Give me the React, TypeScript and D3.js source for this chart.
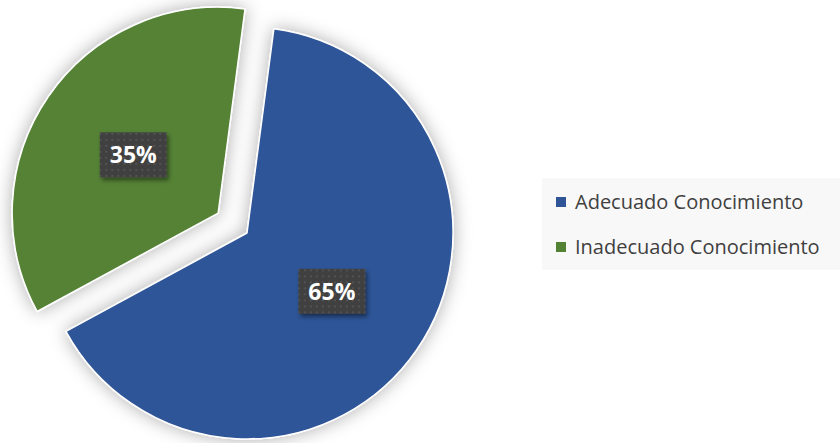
import React, { useRef, useEffect } from "react";
import * as d3 from "d3";

const width = 840;
const height = 443;

const categories = ["Adecuado Conocimiento", "Inadecuado Conocimiento"];
const values = [65, 35];
const labels = ["65%", "35%"];
const colors = ["#2F5597", "#548235"];

const cx = 247;
const cy = 233;
const radius = 206;
const explode = [0, 35];
const startDeg = 7.5;

export default function App() {
  const ref = useRef<SVGSVGElement | null>(null);

  useEffect(() => {
    const svg = d3.select(ref.current);
    svg.selectAll("*").remove();

    const defs = svg.append("defs");
    const shadow = defs
      .append("filter")
      .attr("id", "pieShadow")
      .attr("x", "-20%")
      .attr("y", "-20%")
      .attr("width", "140%")
      .attr("height", "140%");
    shadow
      .append("feDropShadow")
      .attr("dx", 0)
      .attr("dy", 0)
      .attr("stdDeviation", 9)
      .attr("flood-color", "#000")
      .attr("flood-opacity", 0.32);

    const boxShadow = defs
      .append("filter")
      .attr("id", "boxShadow")
      .attr("x", "-30%")
      .attr("y", "-30%")
      .attr("width", "160%")
      .attr("height", "160%");
    boxShadow
      .append("feDropShadow")
      .attr("dx", 2)
      .attr("dy", 3)
      .attr("stdDeviation", 2)
      .attr("flood-color", "#000")
      .attr("flood-opacity", 0.45);

    const pat = defs
      .append("pattern")
      .attr("id", "dots")
      .attr("width", 6)
      .attr("height", 6)
      .attr("patternUnits", "userSpaceOnUse");
    pat.append("rect").attr("width", 6).attr("height", 6).attr("fill", "#404040");
    pat.append("circle").attr("cx", 3).attr("cy", 3).attr("r", 0.9).attr("fill", "#5a5a5a");

    svg.append("rect").attr("width", width).attr("height", height).attr("fill", "#fff");

    const start = (startDeg * Math.PI) / 180;
    const pie = d3
      .pie<number>()
      .sort(null)
      .value((d) => d)
      .startAngle(start)
      .endAngle(start + Math.PI * 2);
    const arcs = pie(values);

    const arc = d3.arc<d3.PieArcDatum<number>>().innerRadius(0).outerRadius(radius);

    const offset = (d: d3.PieArcDatum<number>, i: number) => {
      const mid = (d.startAngle + d.endAngle) / 2;
      return [Math.sin(mid) * explode[i], -Math.cos(mid) * explode[i]];
    };

    const g = svg.append("g").attr("transform", `translate(${cx},${cy})`);

    g.append("g")
      .attr("filter", "url(#pieShadow)")
      .selectAll("path")
      .data(arcs)
      .enter()
      .append("path")
      .attr("transform", (d, i) => {
        const [dx, dy] = offset(d, i);
        return `translate(${dx},${dy})`;
      })
      .attr("d", arc)
      .attr("fill", (_, i) => colors[i])
      .attr("stroke", "#fff")
      .attr("stroke-width", 1.5)
      .attr("stroke-linejoin", "round");

    // data labels
    const lbl = g
      .selectAll("g.lbl")
      .data(arcs)
      .enter()
      .append("g")
      .attr("class", "lbl")
      .attr("transform", (d, i) => {
        const [dx, dy] = offset(d, i);
        const [x, y] = arc.centroid(d);
        return `translate(${x + dx},${y + dy})`;
      });

    lbl
      .append("rect")
      .attr("x", -33.5)
      .attr("y", -22.5)
      .attr("width", 67)
      .attr("height", 45)
      .attr("fill", "url(#dots)")
      .attr("filter", "url(#boxShadow)");

    lbl
      .append("text")
      .text((_, i) => labels[i])
      .attr("text-anchor", "middle")
      .attr("dy", "0.36em")
      .attr("fill", "#fff")
      .attr("font-family", "'Open Sans', sans-serif")
      .attr("font-weight", 700)
      .attr("font-size", 23);

    // legend
    const lg = svg.append("g");
    lg.append("rect")
      .attr("x", 542)
      .attr("y", 178)
      .attr("width", 298)
      .attr("height", 92)
      .attr("fill", "#f8f8f8");

    const rows = lg
      .selectAll("g.row")
      .data(categories)
      .enter()
      .append("g")
      .attr("class", "row")
      .attr("transform", (_, i) => `translate(556,${202 + i * 45})`);

    rows
      .append("rect")
      .attr("x", 0)
      .attr("y", -5)
      .attr("width", 10)
      .attr("height", 10)
      .attr("fill", (_, i) => colors[i]);

    rows
      .append("text")
      .text((d) => d)
      .attr("x", 19)
      .attr("dy", "0.35em")
      .attr("fill", "#404040")
      .attr("font-family", "'Open Sans', sans-serif")
      .attr("font-size", 20);
  }, []);

  return (
    <svg
      ref={ref}
      width={width}
      height={height}
      style={{ position: "absolute", left: 0, top: 0 }}
    />
  );
}
